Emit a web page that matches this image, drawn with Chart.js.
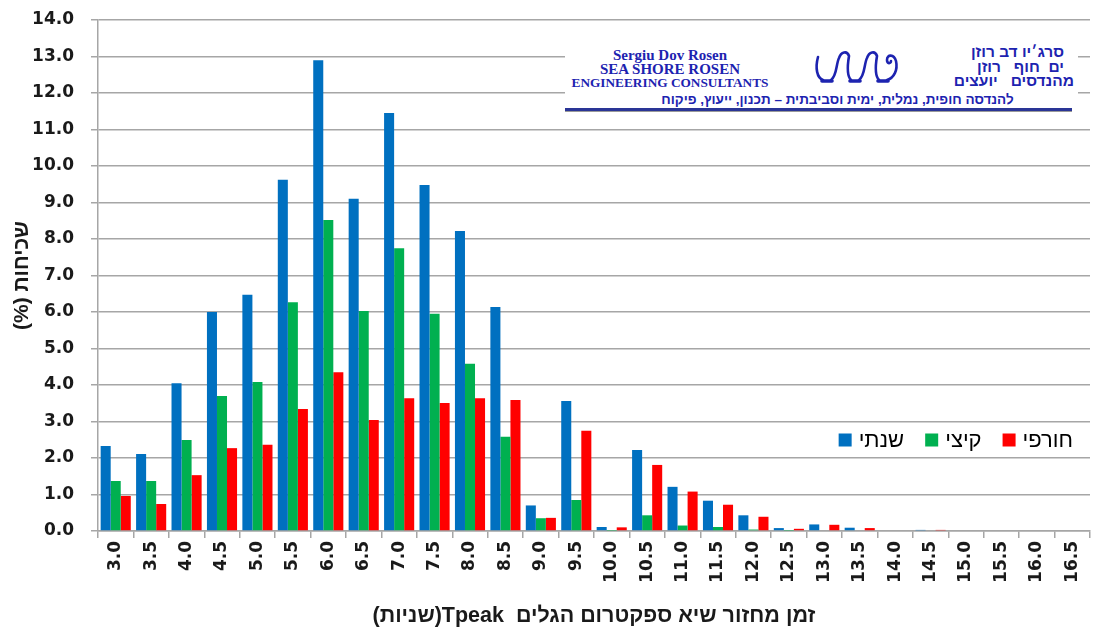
<!DOCTYPE html>
<html lang="he">
<head>
<meta charset="utf-8">
<title>Tpeak</title>
<script src="https://cdn.jsdelivr.net/npm/chart.js@4.4.1/dist/chart.umd.min.js"></script>
<style>
  html, body { margin: 0; padding: 0; background: #fff; }
  #wrap { position: relative; width: 1095px; height: 629px; }
  #chart { position: absolute; left: 0; top: 0; }
  .logo { position: absolute; left: 565px; top: 40px; width: 513px; height: 73px; background: #fff; color: #1d23b0; }
  .logo .en { position: absolute; left: 0; top: 8px; width: 210px; text-align: center;
    font-family: "Liberation Serif", serif; font-weight: bold; line-height: 14px; }
  .logo .en div:nth-child(1) { font-size: 15px; }
  .logo .en div:nth-child(2) { font-size: 15px; }
  .logo .en div:nth-child(3) { font-size: 13.3px; }
  .logo .he { position: absolute; right: 4px; top: 5px; direction: rtl; text-align: right;
    font-family: "Liberation Sans", Arial, sans-serif; font-weight: bold; font-size: 15.5px; line-height: 14.5px; }
  .logo .he div:nth-child(1), .logo .he div:nth-child(2) { padding-right: 10px; }
  .logo .tag { position: absolute; left: 50px; width: 445px; top: 53px; direction: rtl; text-align: center;
    font-family: "Liberation Sans", Arial, sans-serif; font-weight: bold; font-size: 13.5px; line-height: 14px; }
  .logo .rule { position: absolute; left: 0; right: 6px; top: 68px; height: 3px; background: #2a3596;
    box-shadow: 0 1px 0 #9a9a9a; }
  .logo svg { position: absolute; left: 248px; top: 6px; }
</style>
</head>
<body>
<div id="wrap">
  <canvas id="chart" width="1095" height="629" dir="rtl"></canvas>
  <div class="logo">
    <div class="en">
      <div>Sergiu Dov Rosen</div>
      <div>SEA SHORE ROSEN</div>
      <div>ENGINEERING CONSULTANTS</div>
    </div>
    <svg width="90" height="40" viewBox="0 0 90 40">
      <g fill="none" stroke="#1d23b0" stroke-linecap="round">
        <g stroke-width="2.6">
          <path d="M5,11 C2,22 4,32 10,34"/>
          <path d="M18,34 C24,30 23,18 26,12 C28,6 34,4 36,10 C34,22 34,30 38,34"/>
          <path d="M46,34 C52,30 51,18 54,12 C56,6 62,4 64,10 C62,22 62,30 66,34"/>
          <path d="M74,34 C81,32 85,24 83,15 C81,8 74,8 74,14 C74,18 78,18 78,15"/>
        </g>
        <g stroke-width="3.6">
          <path d="M9,35 L19,35"/>
          <path d="M37,35 L47,35"/>
          <path d="M65,35 L75,35"/>
        </g>
      </g>
    </svg>
    <div class="he">
      <div>סרג׳יו דב רוזן</div>
      <div>ים&nbsp;&nbsp;חוף&nbsp;&nbsp;&nbsp;רוזן</div>
      <div>מהנדסים&nbsp;&nbsp;&nbsp;יועצים</div>
    </div>
    <div class="tag">להנדסה חופית, נמלית, ימית וסביבתית – תכנון, ייעוץ, פיקוח</div>
    <div class="rule"></div>
  </div>
</div>
<script>
// Wave peak period classes (seconds)
const categories = ['3.0', '3.5', '4.0', '4.5', '5.0', '5.5', '6.0', '6.5', '7.0', '7.5',
  '8.0', '8.5', '9.0', '9.5', '10.0', '10.5', '11.0', '11.5', '12.0', '12.5',
  '13.0', '13.5', '14.0', '14.5', '15.0', '15.5', '16.0', '16.5'];

// Occurrence (%) per class
const annual = [2.33, 2.11, 4.05, 6.00, 6.47, 9.62, 12.90, 9.10, 11.45, 9.48,
  8.22, 6.14, 0.70, 3.56, 0.11, 2.22, 1.21, 0.83, 0.43, 0.08,
  0.18, 0.09, 0, 0.03, 0, 0, 0, 0];
const summer = [1.37, 1.37, 2.49, 3.70, 4.08, 6.27, 8.52, 6.03, 7.75, 5.95,
  4.58, 2.58, 0.35, 0.85, 0.01, 0.43, 0.15, 0.11, 0.04, 0.01,
  0, 0, 0, 0, 0, 0, 0, 0];
const winter = [0.96, 0.74, 1.53, 2.27, 2.36, 3.34, 4.35, 3.04, 3.64, 3.51,
  3.64, 3.59, 0.36, 2.75, 0.10, 1.81, 1.08, 0.72, 0.39, 0.06,
  0.17, 0.08, 0, 0.03, 0, 0, 0, 0];

const seriesNames = ['שנתי', 'קיצי', 'חורפי'];
const yTicks = [0, 1, 2, 3, 4, 5, 6, 7, 8, 9, 10, 11, 12, 13, 14];

const GRID = '#a6a6a6';
const TICK_FONT = { family: '"DejaVu Sans", Verdana, sans-serif', size: 17, weight: 'bold' };
const TITLE_FONT = { family: '"Liberation Sans", Arial, sans-serif', size: 21.5, weight: 'bold' };

// Legend drawn inside the plot area, right side
const innerLegend = {
  id: 'innerLegend',
  afterDatasetsDraw(chart) {
    const ctx = chart.ctx;
    const area = chart.chartArea;
    const y = 440;
    ctx.save();
    ctx.font = '22px "Liberation Sans", Arial, sans-serif';
    ctx.textBaseline = 'middle';
    ctx.textAlign = 'left';
    const box = 13, gapBox = 7, gapItem = 21;
    const widths = chart.data.datasets.map(ds => ctx.measureText(ds.label).width);
    let total = 0;
    widths.forEach((w, i) => { total += box + gapBox + w + (i ? gapItem : 0); });
    let x = area.right - 17 - total;
    chart.data.datasets.forEach((ds, i) => {
      ctx.fillStyle = ds.backgroundColor;
      ctx.fillRect(x, y - box / 2, box, box);
      x += box + gapBox;
      ctx.fillStyle = '#000';
      ctx.fillText(ds.label, x, y + 1);
      x += widths[i] + gapItem;
    });
    ctx.restore();
  }
};

new Chart(document.getElementById('chart'), {
  type: 'bar',
  data: {
    labels: categories,
    datasets: [
      { label: seriesNames[0], data: annual, backgroundColor: '#0070c0' },
      { label: seriesNames[1], data: summer, backgroundColor: '#00b050' },
      { label: seriesNames[2], data: winter, backgroundColor: '#ff0000' }
    ]
  },
  options: {
    responsive: false,
    animation: false,
    devicePixelRatio: 1,
    layout: { padding: { top: 20, right: 5, left: 0, bottom: 0 } },
    datasets: {
      bar: { categoryPercentage: 0.85, barPercentage: 1.0, borderWidth: 0 }
    },
    plugins: {
      legend: { display: false },
      tooltip: { enabled: false }
    },
    scales: {
      x: {
        offset: true,
        afterFit(scale) {
          scale.height = 98;
          scale.paddingLeft = 0;
          scale.paddingRight = 0;
        },
        grid: { offset: true, drawOnChartArea: false, drawTicks: true, tickLength: 7, color: GRID, lineWidth: 1.5 },
        border: { display: true, color: GRID, width: 1.5 },
        ticks: { color: '#1a1a1a', font: TICK_FONT, minRotation: 90, maxRotation: 90, padding: 3, autoSkip: false },
        title: {
          display: true,
          text: 'זמן מחזור שיא ספקטרום הגלים  Tpeak(שניות)',
          color: '#1a1a1a',
          font: TITLE_FONT,
          padding: { top: 8, bottom: 0 }
        }
      },
      y: {
        min: 0,
        max: 14,
        afterFit(scale) {
          scale.width = 98;
          scale.paddingTop = 0;
          scale.paddingBottom = 0;
        },
        afterBuildTicks(scale) { scale.ticks = yTicks.map(v => ({ value: v })); },
        grid: { color: GRID, lineWidth: 1.5, drawTicks: true, tickLength: 7 },
        border: { display: true, color: GRID, width: 1.5 },
        ticks: {
          color: '#1a1a1a',
          font: TICK_FONT,
          padding: 17,
          callback: v => Number(v).toFixed(1)
        },
        title: {
          display: true,
          text: 'שכיחות (%)',
          color: '#1a1a1a',
          font: { family: '"Liberation Sans", Arial, sans-serif', size: 21, weight: 'bold' },
          padding: { top: 10, bottom: 0 }
        }
      }
    }
  },
  plugins: [innerLegend]
});
</script>
</body>
</html>
